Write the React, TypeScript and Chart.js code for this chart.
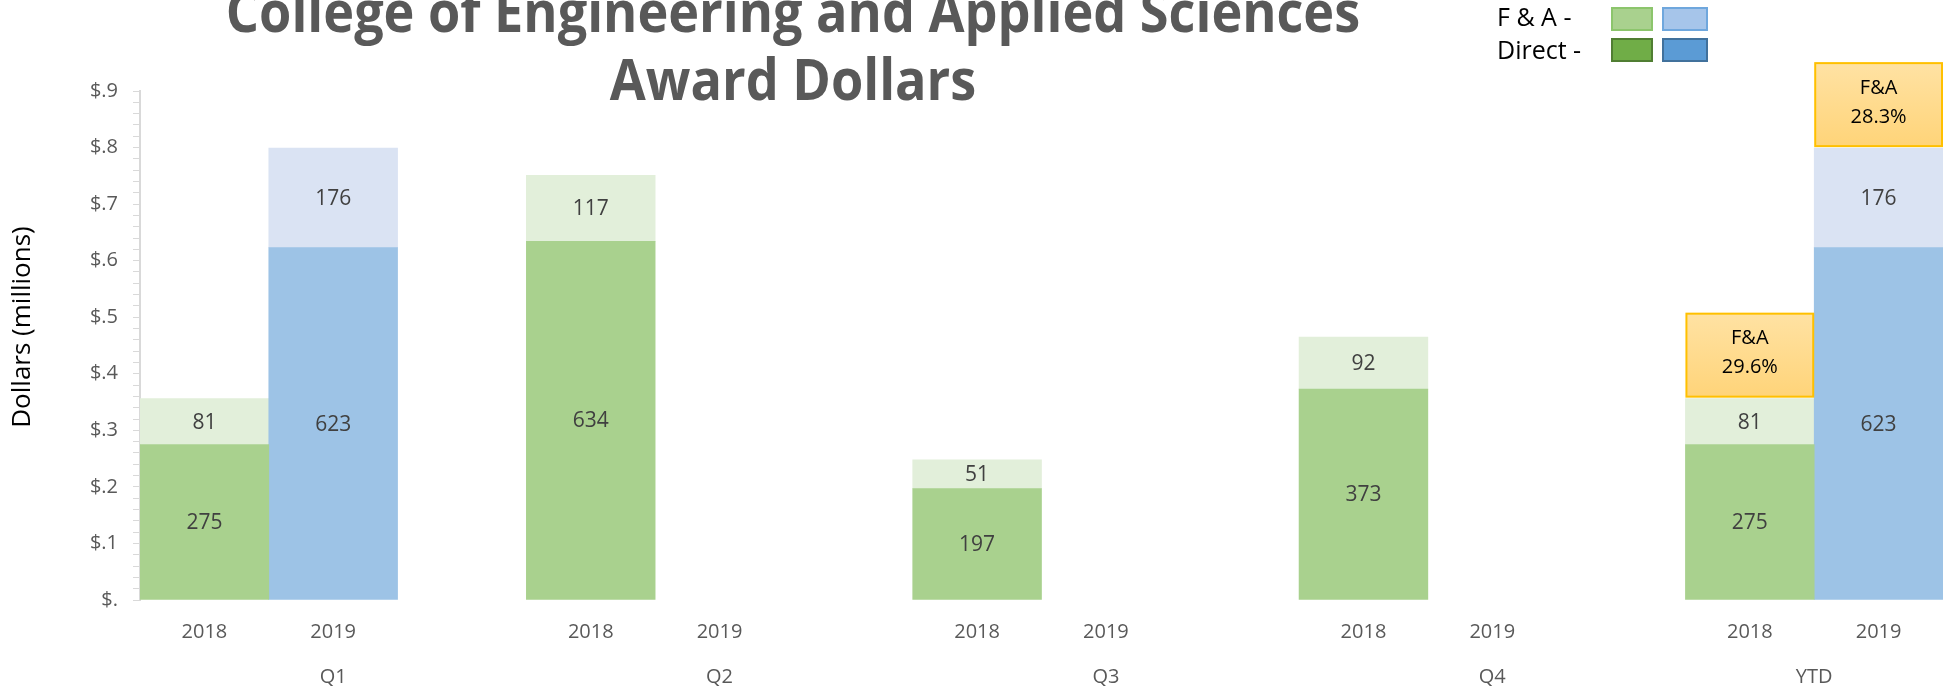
import React, { useEffect, useRef } from 'react';
import { Chart, registerables } from 'chart.js';

Chart.register(...registerables);

// ---- data (thousands of dollars) ----
const groups = ['Q1', 'Q2', 'Q3', 'Q4', 'YTD'];
const years = ['2018', '2019'];
const direct2018 = [275, 634, 197, 373, 275];
const fa2018 = [81, 117, 51, 92, 81];
const direct2019: (number | null)[] = [623, null, null, null, 623];
const fa2019: (number | null)[] = [176, null, null, null, 176];
const faRate2018 = ['F&A', '29.6%'];
const faRate2019 = ['F&A', '28.3%'];
const titleLines = ['College of Engineering and Applied Sciences', 'Award Dollars'];
const yAxisTitle = 'Dollars (millions)';
const legendRows = ['F & A -', 'Direct -'];
const yMax = 900;
const yMinorStep = 20;
const yMajorStep = 100;

// ---- build category slots: 2018, 2019, (blank) per group ----
const categories: string[] = [];
const slot2018: number[] = [];
const slot2019: number[] = [];
const groupSlots: number[][] = [];
groups.forEach((g, gi) => {
  const slots: number[] = [];
  slot2018.push(categories.length); slots.push(categories.length); categories.push(years[0]);
  slot2019.push(categories.length); slots.push(categories.length); categories.push(years[1]);
  if (gi < groups.length - 1) { slots.push(categories.length); categories.push(''); }
  groupSlots.push(slots);
});

function expand(vals: (number | null)[], slots: number[]) {
  const out: (number | null)[] = categories.map(() => null);
  vals.forEach((v, i) => { out[slots[i]] = v; });
  return out;
}

const COLORS = {
  d2018: '#A9D18E',
  f2018: '#E2EFDA',
  d2019: '#9DC3E6',
  f2019: '#DAE3F3',
};

const FONT = '"Open Sans", "DejaVu Sans", sans-serif';

const customPlugin = {
  id: 'customDecor',
  afterDatasetsDraw(chart: any) {
    const ctx = chart.ctx;
    ctx.save();
    ctx.font = `21px ${FONT}`;
    ctx.fillStyle = '#404040';
    ctx.textAlign = 'center';
    ctx.textBaseline = 'middle';
    chart.data.datasets.forEach((ds: any, di: number) => {
      const meta = chart.getDatasetMeta(di);
      meta.data.forEach((el: any, i: number) => {
        const v = ds.data[i];
        if (v === null || v === undefined) return;
        ctx.fillText(String(v), el.x, (el.y + el.base) / 2 + 1);
      });
    });
    ctx.restore();
  },
  afterDraw(chart: any) {
    const ctx = chart.ctx;
    const xs = chart.scales.x;
    // title (slightly condensed horizontally)
    ctx.save();
    ctx.fillStyle = '#595959';
    ctx.font = `bold 58px ${FONT}`;
    ctx.textAlign = 'center';
    ctx.textBaseline = 'alphabetic';
    ctx.translate(793, 0);
    ctx.scale(0.9, 1);
    titleLines.forEach((t, i) => ctx.fillText(t, 0, 32 + i * 68));
    ctx.restore();

    // y axis title
    ctx.save();
    ctx.fillStyle = '#000000';
    ctx.font = `26px ${FONT}`;
    ctx.textAlign = 'center';
    ctx.textBaseline = 'middle';
    ctx.translate(23, 327);
    ctx.rotate(-Math.PI / 2);
    ctx.fillText(yAxisTitle, 0, 0);
    ctx.restore();

    // group labels
    ctx.save();
    ctx.fillStyle = '#595959';
    ctx.font = `20px ${FONT}`;
    ctx.textAlign = 'center';
    ctx.textBaseline = 'middle';
    groups.forEach((g, gi) => {
      const px = groupSlots[gi].map((s) => xs.getPixelForTick(s));
      const cx = px.reduce((a, b) => a + b, 0) / px.length;
      ctx.fillText(g, cx, 677);
    });
    ctx.restore();

    // F&A annotation boxes on YTD bars
    const last = groups.length - 1;
    const boxes = [
      { di: 2, slot: slot2018[last], lines: faRate2018 },
      { di: 3, slot: slot2019[last], lines: faRate2019 },
    ];
    boxes.forEach((b) => {
      const el = chart.getDatasetMeta(b.di).data[b.slot];
      if (!el) return;
      const w = el.width;
      const left = el.x - w / 2;
      const bottom = el.y - 2;
      const h = 83;
      const top = bottom - h;
      ctx.save();
      const grad = ctx.createLinearGradient(0, top, 0, bottom);
      grad.addColorStop(0, '#FFE2A3');
      grad.addColorStop(1, '#FFD479');
      ctx.fillStyle = grad;
      ctx.fillRect(left + 1, top, w - 2, h);
      ctx.strokeStyle = '#FFC000';
      ctx.lineWidth = 2;
      ctx.strokeRect(left + 1, top, w - 2, h);
      ctx.fillStyle = '#000000';
      ctx.font = `20px ${FONT}`;
      ctx.textAlign = 'center';
      ctx.textBaseline = 'middle';
      ctx.fillText(b.lines[0], el.x, top + 25);
      ctx.fillText(b.lines[1], el.x, top + 54);
      ctx.restore();
    });

    // legend
    ctx.save();
    ctx.fillStyle = '#000000';
    ctx.font = `25px ${FONT}`;
    ctx.textAlign = 'left';
    ctx.textBaseline = 'middle';
    ctx.fillText(legendRows[0], 1497, 19);
    ctx.fillText(legendRows[1], 1497, 52);
    const sw = [
      { x: 1612, y: 8, w: 40, fill: '#A9D18E', stroke: '#8CC56C' },
      { x: 1663, y: 8, w: 44, fill: '#A6C5EA', stroke: '#6FA7DD' },
      { x: 1612, y: 39, w: 40, fill: '#70AD47', stroke: '#507E32' },
      { x: 1663, y: 39, w: 44, fill: '#5B9BD5', stroke: '#41719C' },
    ];
    sw.forEach((s) => {
      ctx.fillStyle = s.fill;
      ctx.fillRect(s.x, s.y, s.w, 22);
      ctx.strokeStyle = s.stroke;
      ctx.lineWidth = 2;
      ctx.strokeRect(s.x, s.y, s.w, 22);
    });
    ctx.restore();
  },
};

export default function App() {
  const canvasRef = useRef<HTMLCanvasElement | null>(null);

  useEffect(() => {
    document.body.style.margin = '0';
    const canvas = canvasRef.current;
    if (!canvas) return;
    const chart = new Chart(canvas, {
      type: 'bar',
      data: {
        labels: categories,
        datasets: [
          { label: 'Direct 2018', data: expand(direct2018, slot2018), backgroundColor: COLORS.d2018 },
          { label: 'Direct 2019', data: expand(direct2019, slot2019), backgroundColor: COLORS.d2019 },
          { label: 'F&A 2018', data: expand(fa2018, slot2018), backgroundColor: COLORS.f2018 },
          { label: 'F&A 2019', data: expand(fa2019, slot2019), backgroundColor: COLORS.f2019 },
        ],
      },
      options: {
        animation: false,
        responsive: true,
        maintainAspectRatio: false,
        layout: { padding: { top: 91, right: 6, bottom: 0, left: 0 } },
        datasets: { bar: { categoryPercentage: 1, barPercentage: 1, borderWidth: 0 } },
        plugins: {
          legend: { display: false },
          tooltip: { enabled: false },
          title: { display: false },
        },
        scales: {
          x: {
            stacked: true,
            grid: { display: false },
            border: { display: false },
            ticks: {
              autoSkip: false,
              maxRotation: 0,
              padding: 12,
              color: '#595959',
              font: { family: FONT, size: 20 },
            },
            afterFit: (s: any) => { s.height = 91; },
          },
          y: {
            stacked: true,
            min: 0,
            max: yMax,
            grid: {
              drawOnChartArea: false,
              drawTicks: true,
              tickLength: 7,
              color: '#D9D9D9',
              lineWidth: 1,
            },
            border: { display: true, color: '#D9D9D9', width: 2 },
            ticks: {
              stepSize: yMinorStep,
              autoSkip: false,
              padding: 15,
              color: '#595959',
              font: { family: FONT, size: 20 },
              callback: (v: any) => {
                const n = Math.round(Number(v));
                if (n % yMajorStep !== 0) return '';
                return n === 0 ? '$.' : '$.' + n / yMajorStep;
              },
            },
            afterFit: (s: any) => { s.width = 140; },
          },
        },
      },
      plugins: [customPlugin],
    });
    return () => chart.destroy();
  }, []);

  return (
    <div style={{ width: '1949px', height: '691px', position: 'relative', background: '#ffffff' }}>
      <canvas ref={canvasRef} />
    </div>
  );
}
